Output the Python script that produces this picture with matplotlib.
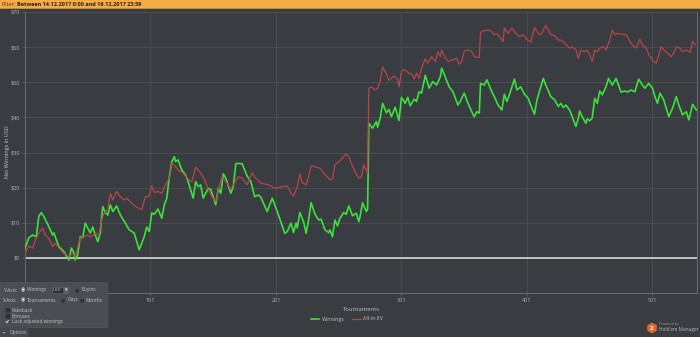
import matplotlib
matplotlib.use("Agg")
import matplotlib.pyplot as plt
from matplotlib.patches import Rectangle, RegularPolygon

plt.rcParams['font.family'] = ['Open Sans', 'DejaVu Sans']

# Winnings (green) - tournament number, net USD
win_t = [1, 4, 7, 10, 12, 14, 16, 20, 23, 24, 28, 32, 36, 38, 40, 41, 43, 45, 47, 49,
         51, 53, 55, 57, 59, 61, 62, 63, 65, 67, 69, 71, 74, 77, 81, 84, 88, 92, 96, 98,
         100, 102, 104, 107, 110, 112, 114, 116, 118, 120, 121, 123, 126, 129, 131, 135, 137, 139, 141, 143,
         147, 149, 153, 155, 157, 159, 161, 165, 167, 169, 171, 174, 178, 181, 184, 187, 189, 194, 198, 202,
         208, 210, 213, 215, 217, 218, 220, 223, 225, 227, 229, 232, 235, 237, 240, 243, 244, 246, 248, 250,
         252, 255, 257, 259, 262, 265, 267, 268, 270, 273, 274, 275, 278, 281, 282, 284, 286, 289, 291, 293,
         296, 299, 301, 304, 306, 308, 311, 313, 315, 317, 320, 323, 326, 329, 332, 333, 335, 339, 342, 346,
         348, 351, 354, 357, 359, 361, 363, 364, 367, 369, 373, 375, 378, 381, 383, 385, 387, 391, 393, 396,
         399, 402, 404, 407, 409, 412, 414, 416, 420, 423, 426, 428, 430, 432, 435, 437, 440, 442, 443, 445,
         448, 449, 451, 453, 455, 457, 459, 461, 464, 466, 469, 472, 476, 479, 481, 484, 487, 490, 493, 495,
         498, 501, 503, 505, 507, 510, 512, 514, 517, 520, 522, 525, 528, 530, 533, 536]
win_v = [2.8, 5.7, 6.5, 6.0, 11.8, 12.9, 11.8, 8.9, 6.5, 7.1, 3.2, 1.8, -0.6, 2.8, 1.4, -0.6, 0.9, 6.0, 5.7, 9.9,
         8.5, 7.1, 8.8, 6.5, 4.6, 7.1, 11.4, 14.6, 12.9, 12.2, 15.1, 13.2, 14.8, 12.2, 9.9, 8.0, 7.1, 2.3, 6.0, 8.8,
         7.5, 12.8, 12.4, 13.9, 11.3, 15.1, 17.0, 23.1, 27.4, 28.8, 27.4, 27.9, 25.0, 23.6, 21.7, 17.0, 21.7, 20.3, 20.8, 17.0,
         19.8, 19.5, 15.1, 19.8, 18.4, 23.9, 22.7, 18.4, 20.3, 26.8, 26.9, 26.8, 23.3, 21.7, 17.4, 17.9, 17.2, 13.2, 17.0, 13.2,
         7.0, 7.5, 9.9, 7.2, 9.9, 8.5, 12.9, 10.3, 7.0, 10.8, 15.7, 12.5, 10.8, 11.0, 8.0, 7.2, 8.0, 6.0, 10.8, 9.1,
         11.3, 12.9, 12.4, 14.8, 12.0, 12.7, 10.3, 11.8, 15.7, 13.2, 13.9, 38.3, 36.9, 38.8, 37.2, 39.8, 44.0, 41.3, 42.3, 40.2,
         42.9, 39.1, 45.7, 44.0, 45.7, 43.3, 45.2, 44.5, 47.3, 46.9, 52.0, 48.3, 50.2, 49.2, 51.6, 54.0, 52.3, 48.7, 47.3, 43.5,
         44.7, 46.9, 44.0, 41.6, 40.2, 41.6, 41.2, 49.7, 49.2, 50.7, 47.3, 45.9, 43.5, 42.1, 46.6, 44.5, 46.4, 50.9, 47.8, 48.7,
         46.6, 45.4, 43.5, 40.9, 45.0, 48.7, 51.1, 49.2, 45.9, 45.0, 43.1, 44.0, 42.8, 43.5, 42.1, 40.2, 37.4, 39.8, 41.8, 40.2,
         38.3, 39.6, 39.0, 39.8, 45.4, 44.0, 47.5, 46.4, 48.7, 51.1, 49.2, 51.1, 47.2, 47.5, 47.2, 47.8, 47.3, 50.9, 49.2, 48.3,
         49.7, 48.3, 45.9, 44.0, 46.9, 45.0, 42.6, 40.2, 42.6, 45.9, 43.5, 40.7, 41.6, 39.3, 43.7, 42.1]

# All-in EV (red)
ev_t = [1, 4, 7, 10, 12, 15, 17, 20, 23, 25, 28, 32, 36, 39, 41, 45, 48, 51, 53, 57,
        60, 62, 64, 67, 69, 71, 74, 77, 80, 82, 86, 90, 94, 97, 100, 102, 104, 107, 110, 113,
        116, 118, 121, 123, 127, 131, 134, 137, 141, 144, 147, 150, 153, 155, 158, 162, 165, 167, 171, 174,
        178, 182, 184, 189, 195, 200, 206, 210, 213, 215, 218, 220, 222, 225, 227, 229, 232, 236, 239, 242,
        244, 246, 248, 251, 254, 257, 259, 261, 264, 267, 269, 271, 274, 275, 277, 280, 282, 284, 286, 289,
        291, 295, 298, 299, 301, 303, 307, 310, 311, 313, 315, 317, 320, 322, 325, 328, 330, 332, 333, 336,
        338, 341, 345, 347, 349, 351, 354, 357, 359, 363, 364, 366, 370, 373, 375, 377, 380, 382, 383, 386,
        389, 392, 395, 398, 400, 404, 407, 410, 412, 416, 418, 420, 423, 426, 428, 430, 432, 435, 437, 440,
        442, 444, 447, 449, 451, 453, 455, 457, 459, 462, 464, 467, 469, 471, 473, 477, 480, 483, 485, 488,
        491, 493, 496, 498, 501, 504, 506, 508, 510, 513, 516, 518, 520, 523, 525, 528, 531, 533, 535]
ev_v = [1.3, 3.4, 2.8, 5.6, 7.0, 8.5, 6.5, 5.6, 3.2, 4.2, 2.8, 1.3, 0.4, 1.3, 0.4, 5.6, 6.0, 6.5, 5.9, 7.0,
        6.5, 10.8, 12.7, 13.7, 18.4, 16.5, 18.9, 17.4, 16.5, 17.0, 15.6, 14.4, 13.7, 17.4, 17.6, 20.5, 18.6, 18.9, 18.4, 20.8,
        22.7, 26.9, 26.0, 25.0, 24.1, 22.4, 21.7, 25.8, 24.1, 22.4, 19.5, 17.4, 16.0, 19.4, 23.0, 21.3, 19.5, 20.8, 23.1, 22.7,
        20.8, 24.3, 23.0, 21.3, 20.8, 19.8, 20.3, 20.5, 18.4, 17.6, 20.3, 23.9, 21.4, 20.8, 23.1, 26.2, 26.0, 25.5, 24.1, 23.1,
        22.2, 22.4, 26.5, 27.4, 28.4, 29.6, 28.8, 26.9, 24.6, 22.7, 23.0, 26.5, 24.1, 48.3, 48.7, 47.8, 48.3, 50.2, 54.3, 52.4,
        50.5, 51.8, 50.7, 48.7, 53.0, 53.7, 52.6, 52.1, 50.9, 52.6, 51.1, 54.0, 56.7, 55.4, 57.3, 55.9, 58.7, 57.3, 59.2, 56.8,
        55.9, 56.3, 56.8, 55.1, 55.9, 58.9, 59.2, 58.7, 57.3, 57.0, 64.2, 64.6, 64.9, 64.4, 63.5, 63.9, 62.5, 61.6, 65.4, 63.9,
        65.4, 63.9, 63.0, 63.5, 62.5, 61.4, 65.6, 63.9, 63.5, 66.2, 64.9, 63.5, 63.3, 62.0, 62.0, 61.5, 60.8, 59.7, 60.1, 59.2,
        56.8, 59.2, 58.7, 59.2, 57.8, 55.9, 59.2, 58.7, 59.7, 60.1, 59.2, 62.0, 64.9, 63.5, 63.9, 63.7, 63.5, 61.6, 60.6, 59.7,
        62.3, 60.6, 59.7, 58.0, 56.3, 55.4, 57.8, 60.1, 59.2, 58.3, 57.3, 58.3, 60.1, 59.7, 58.7, 59.2, 58.5, 61.6, 60.6]

x_ticks = [101, 201, 301, 401, 501]
y_ticks = [0, 10, 20, 30, 40, 50, 60, 70]

W, H = 700, 337
BG = '#393c40'
TXT = '#c4c4c4'


def px(x, y):
    # pixel position (from top left) to figure fraction
    return x / W, 1 - y / H


fig = plt.figure(figsize=(W / 100, H / 100), dpi=100)
fig.patch.set_facecolor(BG)

ax = fig.add_axes([25 / W, 1 - 293 / H, 672 / W, 281 / H])
ax.set_facecolor(BG)

ax.plot(win_t, win_v, color='#3be23b', lw=1.2, label='Winnings', zorder=3)
ax.plot(ev_t, ev_v, color='#b9454a', lw=0.9, label='All-in EV', zorder=4)
ax.axhline(0, color='#e8e8e8', lw=1.1, zorder=2)

ax.set_xlim(1, 536.5)
ax.set_ylim(-10, 70)
ax.set_xticks(x_ticks)
ax.set_xticklabels([str(t) for t in x_ticks])
ax.set_yticks(y_ticks)
ax.set_yticklabels(['$%d' % v for v in y_ticks])
ax.grid(True, color='#4a4d51', lw=0.7, zorder=0)
ax.tick_params(colors='#5e6165', labelcolor='#b8b8b8', labelsize=4, length=2, width=0.6, pad=1.5)
for side in ['left', 'bottom', 'right']:
    ax.spines[side].set_color('#66696d')
    ax.spines[side].set_linewidth(0.8)
ax.spines['top'].set_visible(False)
ax.set_xlabel('Tournaments', color=TXT, fontsize=4.2, labelpad=3)
fig.text(*px(8, 152), 'Net Winnings in USD', color=TXT, fontsize=4, rotation=90,
         ha='center', va='center')

# filter bar at top
fig.patches.append(Rectangle(px(0, 7.5), 1, 7.5 / H, transform=fig.transFigure,
                             facecolor='#f4ac45', edgecolor='none'))
fig.patches.append(Rectangle(px(0, 8.5), 1, 1 / H, transform=fig.transFigure,
                             facecolor='#c98a30', edgecolor='none'))
fig.text(*px(2, 4), 'Filter:', fontsize=4, color='#4a3a20', va='center')
fig.text(*px(17, 4), 'Between 14.12.2017 0:00 and 16.12.2017 23:59', fontsize=4,
         color='#2a2010', va='center', fontweight='bold')

# legend
fig.legend(loc='center', bbox_to_anchor=px(347, 319), ncol=2, frameon=False,
           fontsize=3.8, labelcolor=TXT, handlelength=1.6, columnspacing=1.5, handletextpad=0.5)

# options panel
fig.patches.append(Rectangle(px(0, 327), 107 / W, 45 / H, transform=fig.transFigure,
                             facecolor='#4a4d51', edgecolor='#55585c', lw=0.5))
fig.patches.append(Rectangle(px(0, 337), 29 / W, 10 / H, transform=fig.transFigure,
                             facecolor='#45484c', edgecolor='none'))
fs = 3.4
fig.text(*px(3, 290), 'Y-Axis:', fontsize=fs, color=TXT, va='center')
fig.text(*px(21, 290), '◉', fontsize=3.6, color='#dddddd', va='center')
fig.text(*px(27, 290), 'Winnings', fontsize=fs, color=TXT, va='center')
fig.text(*px(53, 290), 'USD', fontsize=3.2, color=TXT, va='center',
         bbox=dict(boxstyle='square,pad=0.25', facecolor='#2c2e31', edgecolor='#6a6d70', lw=0.4))
fig.text(*px(65, 290), '▾', fontsize=3.6, color='#eeeeee', va='center',
         bbox=dict(boxstyle='square,pad=0.15', facecolor='#5a5d61', edgecolor='#6a6d70', lw=0.4))
fig.text(*px(75, 290), '●', fontsize=3.6, color='#2e3033', va='center')
fig.text(*px(81, 290), 'Buyins', fontsize=fs, color=TXT, va='center')

fig.text(*px(3, 300), 'X-Axis:', fontsize=fs, color=TXT, va='center')
fig.text(*px(21, 300), '◉', fontsize=3.6, color='#dddddd', va='center')
fig.text(*px(27, 300), 'Tournaments', fontsize=fs, color=TXT, va='center')
fig.text(*px(61, 300), '●', fontsize=3.6, color='#2e3033', va='center')
fig.text(*px(67, 300), 'Days', fontsize=fs, color=TXT, va='center')
fig.text(*px(80, 300), '●', fontsize=3.6, color='#2e3033', va='center')
fig.text(*px(86, 300), 'Months', fontsize=fs, color=TXT, va='center')

fig.text(*px(4, 310), '■', fontsize=4.5, color='#2e3033', va='center')
fig.text(*px(12, 310), 'Rakeback', fontsize=fs, color=TXT, va='center')
fig.text(*px(4, 316), '■', fontsize=4.5, color='#2e3033', va='center')
fig.text(*px(12, 316), 'Bonuses', fontsize=fs, color=TXT, va='center')
fig.text(*px(4, 322), '✔', fontsize=4.2, color='#eeeeee', va='center')
fig.text(*px(12, 322), 'Luck adjusted winnings', fontsize=fs, color=TXT, va='center')

fig.text(*px(3, 332.5), '▾', fontsize=3.2, color=TXT, va='center')
fig.text(*px(10, 332.5), 'Options', fontsize=fs, color=TXT, va='center')

# logo (hexagon placed in inches so it stays regular)
fig.patches.append(RegularPolygon((652 / 100, (H - 328) / 100), 6, radius=0.055,
                                  transform=fig.dpi_scale_trans,
                                  facecolor='#e0682a', edgecolor='none'))
fig.text(*px(652, 328), '2', fontsize=4.5, color='white', ha='center', va='center', fontweight='bold')
fig.text(*px(659, 324), 'Powered by', fontsize=2.6, color='#9a9a9a', va='center')
fig.text(*px(659, 330), "Hold'em Manager", fontsize=3.4, color='#b8b8b8', va='center')

fig.savefig('out.png', dpi=100, facecolor=fig.get_facecolor())
